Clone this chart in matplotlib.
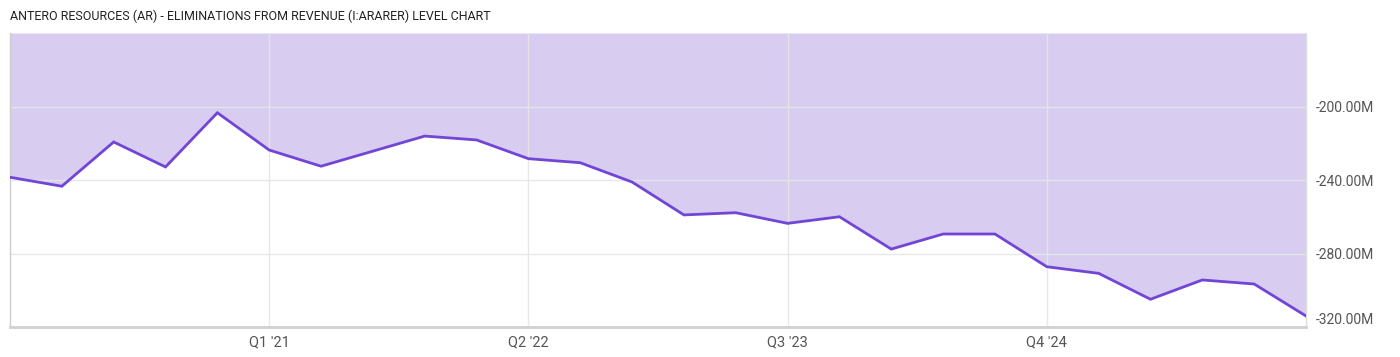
import matplotlib
matplotlib.use("Agg")
import matplotlib.pyplot as plt

title = "ANTERO RESOURCES (AR) - ELIMINATIONS FROM REVENUE (I:ARARER) LEVEL CHART"

quarters = ["Q4 '19", "Q1 '20", "Q2 '20", "Q3 '20", "Q4 '20",
            "Q1 '21", "Q2 '21", "Q3 '21", "Q4 '21", "Q1 '22",
            "Q2 '22", "Q3 '22", "Q4 '22", "Q1 '23", "Q2 '23",
            "Q3 '23", "Q4 '23", "Q1 '24", "Q2 '24", "Q3 '24",
            "Q4 '24", "Q1 '25", "Q2 '25", "Q3 '25", "Q4 '25", "Q1 '26"]
values_m = [-238.5, -243.4, -219.3, -232.9, -203.4,
            -223.7, -232.5, -224.3, -216.1, -218.2,
            -228.4, -230.6, -241.1, -259.0, -257.8,
            -263.6, -260.0, -277.6, -269.4, -269.4,
            -287.2, -290.8, -304.9, -294.4, -296.6, -314.0]
xtick_labels = ["Q1 '21", "Q2 '22", "Q3 '23", "Q4 '24"]
ytick_values = [-200, -240, -280, -320]

fill_color = "#d8cdf0"
line_color = "#7145d6"
grid_color = "#e6e6e6"
text_color = "#555555"

fig = plt.figure(figsize=(14, 3.57), dpi=100)
ax = fig.add_axes([10/1400, 1-327/357, 1296/1400, 294/357])

x = list(range(len(values_m)))
ymin, ymax = -320, -160
ax.fill_between(x, values_m, ymax, color=fill_color, lw=0, zorder=1)
ax.plot(x, values_m, color=line_color, lw=2, zorder=3, solid_joinstyle="miter")

ax.set_xlim(0, len(values_m) - 1)
ax.set_ylim(ymin, ymax)

xt = [quarters.index(q) for q in xtick_labels]
ax.set_xticks(xt)
ax.set_xticklabels(xtick_labels)
ax.yaxis.tick_right()
ax.set_yticks(ytick_values)
ax.set_yticklabels([f"{v:.2f}M" for v in ytick_values])
for lbl in ax.get_yticklabels():
    if lbl.get_text().startswith("-320"):
        lbl.set_va("bottom")

ax.grid(True, color=grid_color, lw=1, zorder=2)
for gl in ax.get_xgridlines() + ax.get_ygridlines():
    gl.set_zorder(2)
    gl.set_alpha(0.9)

ax.tick_params(axis="x", length=0, labelsize=10.5, colors=text_color, pad=6)
ax.tick_params(axis="y", length=0, labelsize=10, colors=text_color, pad=7)
for lbl in ax.get_xticklabels() + ax.get_yticklabels():
    lbl.set_fontfamily("Roboto")

ax.spines["top"].set_visible(False)
ax.spines["left"].set_color("#cccccc")
ax.spines["left"].set_linewidth(1)
ax.spines["right"].set_color("#dddddd")
ax.spines["right"].set_linewidth(1)
ax.spines["bottom"].set_color("#d0d0d0")
ax.spines["bottom"].set_linewidth(2)

fig.text(10/1400, 1-16/357, title, fontsize=9, family="Roboto", color="#222222",
         va="center", ha="left")

fig.savefig("out.png", dpi=100)
